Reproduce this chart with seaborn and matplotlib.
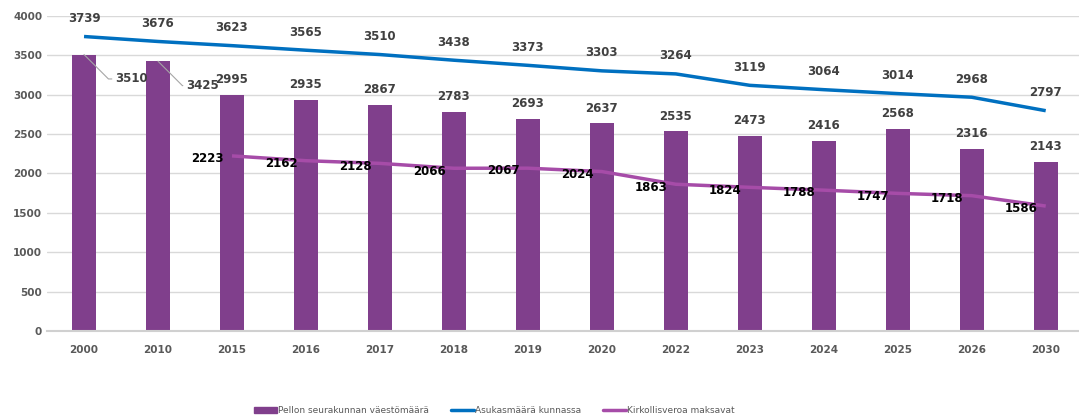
import matplotlib
matplotlib.use("Agg")
import matplotlib.pyplot as plt
import seaborn as sns
import pandas as pd
from matplotlib.patches import Patch
from matplotlib.lines import Line2D

years = ["2000", "2010", "2015", "2016", "2017", "2018", "2019", "2020",
         "2022", "2023", "2024", "2025", "2026", "2030"]
seurakunta = [3510, 3425, 2995, 2935, 2867, 2783, 2693, 2637, 2535, 2473, 2416, 2568, 2316, 2143]
asukkaat = [3739, 3676, 3623, 3565, 3510, 3438, 3373, 3303, 3264, 3119, 3064, 3014, 2968, 2797]
kirkvero_years = years[2:]
kirkvero = [2223, 2162, 2128, 2066, 2067, 2024, 1863, 1824, 1788, 1747, 1718, 1586]

bar_col = "#803F8C"
blue = "#0070C0"
pink = "#A64CA8"
lab_gray = "#404040"

df = pd.DataFrame({"vuosi": years, "seurakunta": seurakunta, "asukkaat": asukkaat})

sns.set_style("white")
plt.rcParams["font.family"] = ["DejaVu Sans"]

fig = plt.figure(figsize=(10.79, 4.20), dpi=100)
ax = fig.add_axes([0.0436, 0.212, 0.9564, 0.75])

sns.barplot(data=df, x="vuosi", y="seurakunta", color=bar_col, width=0.33,
            saturation=1, ax=ax, zorder=2, linewidth=0)
xpos = {y: i for i, y in enumerate(years)}
ax.plot(range(len(years)), asukkaat, color=blue, lw=2.5, zorder=3, solid_capstyle="butt")
ax.plot([xpos[y] for y in kirkvero_years], kirkvero, color=pink, lw=2.5, zorder=3,
        solid_capstyle="butt")

ax.set_ylim(0, 4000)
ax.set_xlim(-0.5, 13.45)
ax.set_yticks(range(0, 4001, 500))
ax.yaxis.grid(True, color="#D9D9D9", lw=1)
ax.set_axisbelow(True)
for s in ["top", "right", "left"]:
    ax.spines[s].set_visible(False)
ax.spines["bottom"].set_color("#D0D0D0")
ax.spines["bottom"].set_linewidth(1.5)
ax.tick_params(length=0, labelsize=7.5, labelcolor="#595959")
ax.tick_params(axis="x", pad=10)
for t in ax.get_xticklabels() + ax.get_yticklabels():
    t.set_fontweight("bold")
ax.set_xlabel("")
ax.set_ylabel("")

# bar labels (first two have leader lines)
for i, v in enumerate(seurakunta):
    if i < 2:
        ax.annotate(str(v), xy=(i, v), xytext=(i + 0.42 - 0.04 * i, v - 310), ha="left",
                    va="center", fontsize=8.5, fontweight="bold", color=lab_gray,
                    arrowprops=dict(arrowstyle="-", color="#A6A6A6", lw=0.8,
                                    connectionstyle="angle,angleA=0,angleB=-45,rad=0",
                                    shrinkA=0, shrinkB=0))
    else:
        ax.annotate(str(v), xy=(i, v), xytext=(0, 11), textcoords="offset points",
                    ha="center", va="center", fontsize=8.5, fontweight="bold", color=lab_gray)

# blue line labels
for i, v in enumerate(asukkaat):
    ax.annotate(str(v), xy=(i, v), xytext=(0, 13), textcoords="offset points",
                ha="center", va="center", fontsize=8.5, fontweight="bold", color=lab_gray)

# pink line labels
for y, v in zip(kirkvero_years, kirkvero):
    ax.annotate(str(v), xy=(xpos[y], v), xytext=(-6, -2), textcoords="offset points",
                ha="right", va="center", fontsize=8.5, fontweight="bold", color="black",
                zorder=5)

handles = [Patch(facecolor=bar_col, edgecolor=bar_col),
           Line2D([], [], color=blue, lw=2.5),
           Line2D([], [], color=pink, lw=2.5)]
labels = ["Pellon seurakunnan väestömäärä", "Asukasmäärä kunnassa", "Kirkollisveroa maksavat"]
leg = fig.legend(handles, labels, loc="center", bbox_to_anchor=(0.458, 0.022), ncol=3,
                 frameon=False, fontsize=6.5, columnspacing=2.4, handlelength=2.6,
                 handletextpad=0.1, handleheight=0.6)
for t in leg.get_texts():
    t.set_color("#595959")

fig.savefig("out.png", dpi=100)
